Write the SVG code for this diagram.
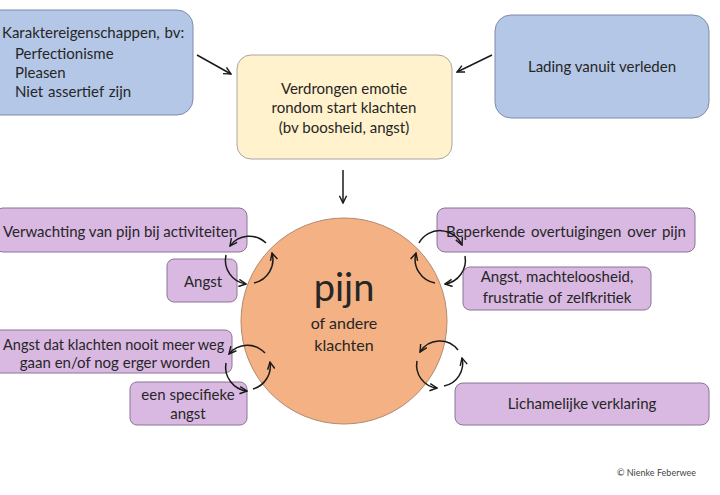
<svg xmlns="http://www.w3.org/2000/svg" width="720" height="495" viewBox="0 0 720 495">
<style>
text{font-family:Lato,"Liberation Sans",sans-serif;fill:#262626;font-size:15px}
.c{text-anchor:middle}
.blue{fill:#b4c7e7;stroke:#7d8ca8;stroke-width:1}
.yel{fill:#fff2cc;stroke:#a6a6a6;stroke-width:1}
.pur{fill:#d9b8e2;stroke:#8a7595;stroke-width:1}
.circ{fill:#f4b183;stroke:#b08a70;stroke-width:1}
.ln{fill:none;stroke:#1a1a1a;stroke-width:1.5;marker-end:url(#ah)}
</style>
<defs>
<marker id="ah" viewBox="0 0 10 10" refX="9" refY="5" markerWidth="6" markerHeight="6" orient="auto" markerUnits="strokeWidth">
<path d="M1,1 L9,5 L1,9" fill="none" stroke="#1a1a1a" stroke-width="1.6"/>
</marker>
</defs>
<rect width="720" height="495" fill="#ffffff"/>
<g id="karakter">
<rect class="blue" x="-20" y="10" width="213" height="105" rx="16"/>
<text x="2" y="38" word-spacing="1">Karaktereigenschappen, bv:</text>
<text x="15" y="59">Perfectionisme</text>
<text x="15" y="78">Pleasen</text>
<text x="15" y="97" word-spacing="1">Niet assertief zijn</text>
</g>
<g id="verdrongen">
<rect class="yel" x="237" y="55" width="215" height="104" rx="14"/>
<text class="c" x="344" y="94">Verdrongen emotie</text>
<text class="c" x="344" y="113">rondom start klachten</text>
<text class="c" x="344" y="133">(bv boosheid, angst)</text>
</g>
<g id="lading">
<rect class="blue" x="495" y="15" width="214" height="103" rx="16"/>
<text class="c" x="602" y="72">Lading vanuit verleden</text>
</g>
<g id="pijn">
<circle class="circ" cx="344" cy="321" r="103"/>
<text class="c" x="344" y="301" style="font-size:38px">pijn</text>
<text class="c" x="344" y="329" style="font-size:16px">of andere</text>
<text class="c" x="344" y="351" style="font-size:16px">klachten</text>
</g>
<g id="verwachting">
<rect class="pur" x="-5" y="208" width="252" height="44" rx="8"/>
<text class="c" x="120" y="237">Verwachting van pijn bij activiteiten</text>
</g>
<g id="angst1">
<rect class="pur" x="167" y="259" width="70" height="43" rx="7"/>
<text class="c" x="203" y="287">Angst</text>
</g>
<g id="beperkende">
<rect class="pur" x="437" y="208" width="258" height="44" rx="8"/>
<text class="c" x="566" y="237" word-spacing="2">Beperkende overtuigingen over pijn</text>
</g>
<g id="machteloos">
<rect class="pur" x="463" y="267" width="188" height="43" rx="7"/>
<text class="c" x="557" y="282">Angst, machteloosheid,</text>
<text class="c" x="557" y="303" word-spacing="1">frustratie of zelfkritiek</text>
</g>
<g id="nooitmeer">
<rect class="pur" x="-10" y="330" width="242" height="43" rx="7"/>
<text x="3" y="350" style="font-size:14.5px">Angst dat klachten nooit meer weg</text>
<text class="c" x="115" y="368">gaan en/of nog erger worden</text>
</g>
<g id="specifiek">
<rect class="pur" x="130" y="382" width="117" height="43" rx="7"/>
<text class="c" x="188" y="400">een specifieke</text>
<text class="c" x="188" y="419">angst</text>
</g>
<g id="lichamelijk">
<rect class="pur" x="455" y="383" width="254" height="42" rx="8"/>
<text class="c" x="582" y="409">Lichamelijke verklaring</text>
</g>
<g id="connectors">
<path class="ln" d="M197,55 L231,74"/>
<path class="ln" d="M492,55 L457,72"/>
<path class="ln" d="M343,170 L343,203"/>
<path class="ln" d="M266,243 A24,24 0 0 0 230,246"/>
<path class="ln" d="M226,255 A24,24 0 0 0 246,284"/>
<path class="ln" d="M254,283 A24,24 0 0 0 272,253"/>
<path class="ln" d="M419,243 A24,24 0 0 1 462,245"/>
<path class="ln" d="M465,256 A24,24 0 0 1 445,284"/>
<path class="ln" d="M435,283 A24,24 0 0 1 416,253"/>
<path class="ln" d="M265,353 A24,24 0 0 0 229,354"/>
<path class="ln" d="M226,363 A24,24 0 0 0 247,391"/>
<path class="ln" d="M253,389 A24,24 0 0 0 270,362"/>
<path class="ln" d="M458,350 A23,23 0 0 0 420,352"/>
<path class="ln" d="M417,361 A23,23 0 0 0 437,388"/>
<path class="ln" d="M444,386 A23,23 0 0 0 462,358"/>
</g>
<text x="617" y="476" style="font-size:9px;fill:#444">© Nienke Feberwee</text>
</svg>
